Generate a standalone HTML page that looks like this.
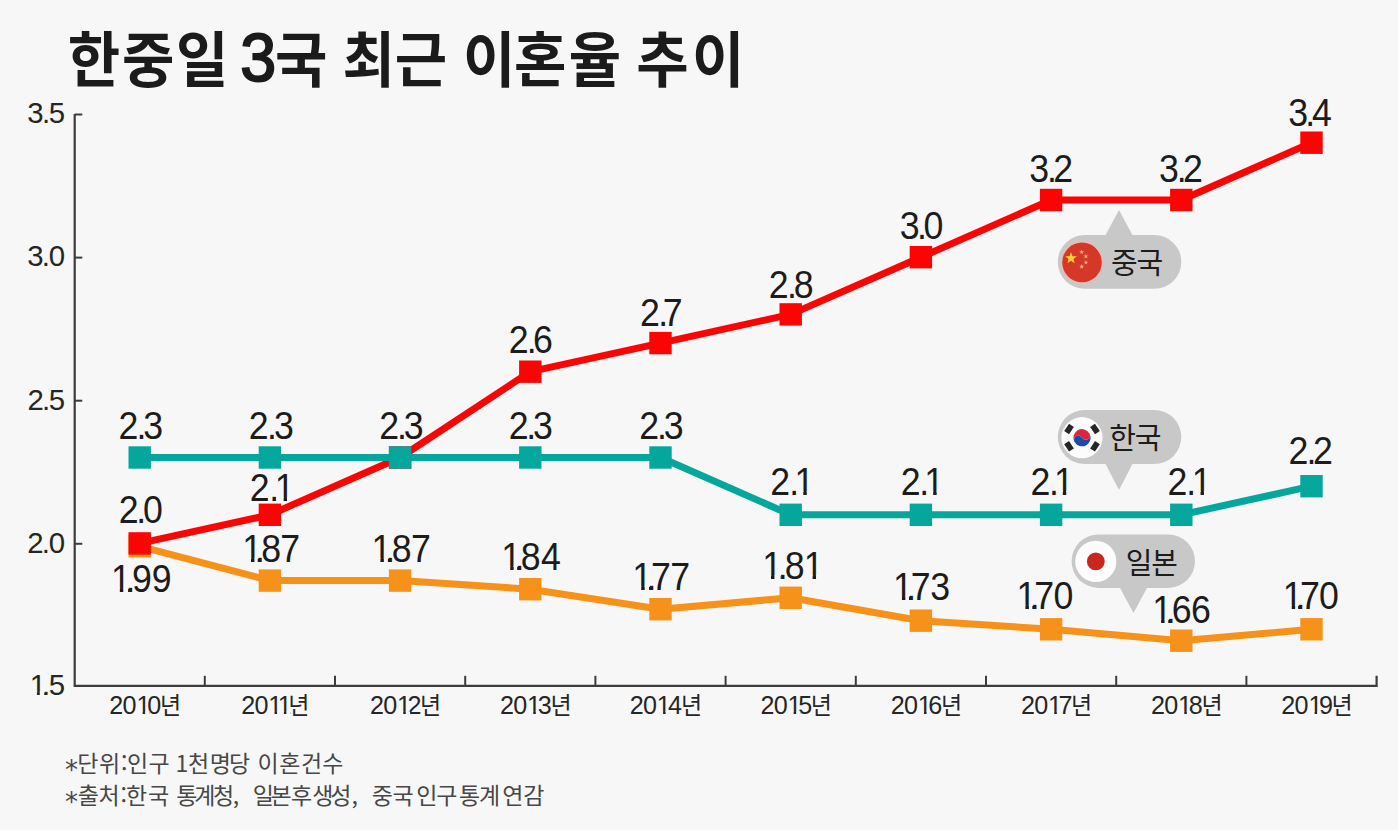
<!DOCTYPE html>
<html lang="ko"><head><meta charset="utf-8"><title>한중일 3국 최근 이혼율 추이</title>
<style>
html,body{margin:0;padding:0;background:#f7f7f7;width:1398px;height:830px;overflow:hidden}
svg{display:block}
text{font-family:"Liberation Sans","Noto Sans CJK KR",sans-serif;fill:#1e1e1e}
.t{font-family:"Noto Sans CJK KR",sans-serif;font-weight:700;font-size:60px;fill:#1b1b1b}
.t3{font-family:"Liberation Sans",sans-serif;font-weight:400;font-size:68px;fill:#1b1b1b;stroke:#1b1b1b;stroke-width:2px}
.v{font-size:38px;fill:#1c1c1c}
.y{font-size:29.4px;fill:#262626}
.x{font-size:26.5px;fill:#262626}
.xn{font-family:"Noto Sans CJK KR",sans-serif;font-size:24.2px}
.b{font-family:"Noto Sans CJK KR",sans-serif;font-size:29px;letter-spacing:-1.2px;fill:#1c1c1c}
.f{font-family:"Noto Sans CJK KR",sans-serif;font-size:23px;fill:#474747}
.ast{font-family:"DejaVu Sans",sans-serif;font-size:26px}
</style></head><body>
<svg width="1398" height="830" viewBox="0 0 1398 830">
<defs><clipPath id="c0"><rect x="28.47" y="662.26" width="39.43" height="29.56"/><rect x="36.90" y="691.32" width="2.89" height="12.10"/><rect x="44.04" y="691.32" width="4.02" height="12.10"/><rect x="49.36" y="691.32" width="15.14" height="12.10"/></clipPath><clipPath id="c1"><rect x="112.22" y="684.85" width="60.62" height="26.59"/><rect x="115.79" y="710.94" width="13.35" height="11.01"/><rect x="129.46" y="710.94" width="13.93" height="11.01"/><rect x="150.10" y="710.94" width="2.65" height="11.01"/><rect x="157.33" y="710.94" width="11.93" height="11.01"/><rect x="167.26" y="680.00" width="26.32" height="31.44"/><rect x="167.26" y="710.94" width="26.32" height="14.06"/></clipPath><clipPath id="c2"><rect x="251.11" y="684.85" width="54.42" height="26.59"/><rect x="254.68" y="710.94" width="13.35" height="11.01"/><rect x="268.35" y="710.94" width="13.93" height="11.01"/><rect x="288.99" y="710.94" width="2.65" height="11.01"/><rect x="298.83" y="710.94" width="2.65" height="11.01"/><rect x="302.47" y="680.00" width="26.32" height="31.44"/><rect x="305.95" y="710.94" width="22.84" height="14.06"/></clipPath><clipPath id="c3"><rect x="386.61" y="684.85" width="60.04" height="26.59"/><rect x="390.19" y="710.94" width="13.35" height="11.01"/><rect x="403.85" y="710.94" width="13.93" height="11.01"/><rect x="424.50" y="710.94" width="2.65" height="11.01"/><rect x="431.73" y="710.94" width="11.34" height="11.01"/><rect x="441.07" y="680.00" width="26.32" height="31.44"/><rect x="441.07" y="710.94" width="26.32" height="14.06"/></clipPath><clipPath id="c4"><rect x="523.43" y="684.85" width="60.51" height="26.59"/><rect x="527.01" y="710.94" width="13.35" height="11.01"/><rect x="540.67" y="710.94" width="13.93" height="11.01"/><rect x="561.31" y="710.94" width="2.65" height="11.01"/><rect x="568.54" y="710.94" width="11.82" height="11.01"/><rect x="578.36" y="680.00" width="26.32" height="31.44"/><rect x="578.36" y="710.94" width="26.32" height="14.06"/></clipPath><clipPath id="c5"><rect x="660.08" y="684.85" width="61.31" height="26.59"/><rect x="663.66" y="710.94" width="13.35" height="11.01"/><rect x="677.32" y="710.94" width="13.93" height="11.01"/><rect x="697.97" y="710.94" width="2.65" height="11.01"/><rect x="705.20" y="710.94" width="12.61" height="11.01"/><rect x="715.81" y="680.00" width="26.32" height="31.44"/><rect x="715.81" y="710.94" width="26.32" height="14.06"/></clipPath><clipPath id="c6"><rect x="797.53" y="684.85" width="60.51" height="26.59"/><rect x="801.11" y="710.94" width="13.35" height="11.01"/><rect x="814.77" y="710.94" width="13.93" height="11.01"/><rect x="835.42" y="710.94" width="2.65" height="11.01"/><rect x="842.65" y="710.94" width="11.82" height="11.01"/><rect x="852.47" y="680.00" width="26.32" height="31.44"/><rect x="852.47" y="710.94" width="26.32" height="14.06"/></clipPath><clipPath id="c7"><rect x="934.76" y="684.85" width="60.17" height="26.59"/><rect x="938.34" y="710.94" width="13.35" height="11.01"/><rect x="952.00" y="710.94" width="13.93" height="11.01"/><rect x="972.64" y="710.94" width="2.65" height="11.01"/><rect x="979.87" y="710.94" width="11.48" height="11.01"/><rect x="989.35" y="680.00" width="26.32" height="31.44"/><rect x="989.35" y="710.94" width="26.32" height="14.06"/></clipPath><clipPath id="c8"><rect x="1071.89" y="684.85" width="60.01" height="26.59"/><rect x="1075.47" y="710.94" width="13.35" height="11.01"/><rect x="1089.13" y="710.94" width="13.93" height="11.01"/><rect x="1109.77" y="710.94" width="2.65" height="11.01"/><rect x="1117.01" y="710.94" width="11.32" height="11.01"/><rect x="1126.32" y="680.00" width="26.32" height="31.44"/><rect x="1126.32" y="710.94" width="26.32" height="14.06"/></clipPath><clipPath id="c9"><rect x="1208.74" y="684.85" width="60.41" height="26.59"/><rect x="1212.32" y="710.94" width="13.35" height="11.01"/><rect x="1225.98" y="710.94" width="13.93" height="11.01"/><rect x="1246.63" y="710.94" width="2.65" height="11.01"/><rect x="1253.86" y="710.94" width="11.71" height="11.01"/><rect x="1263.57" y="680.00" width="26.32" height="31.44"/><rect x="1263.57" y="710.94" width="26.32" height="14.06"/></clipPath><clipPath id="c10"><rect x="1345.90" y="684.85" width="60.20" height="26.59"/><rect x="1349.48" y="710.94" width="13.35" height="11.01"/><rect x="1363.14" y="710.94" width="13.93" height="11.01"/><rect x="1383.79" y="710.94" width="2.65" height="11.01"/><rect x="1391.02" y="710.94" width="11.50" height="11.01"/><rect x="1400.52" y="680.00" width="26.32" height="31.44"/><rect x="1400.52" y="710.94" width="26.32" height="14.06"/></clipPath><clipPath id="c11"><rect x="817.02" y="452.80" width="45.32" height="38.39"/><rect x="820.64" y="490.69" width="18.60" height="15.31"/><rect x="842.34" y="490.69" width="4.92" height="15.31"/><rect x="854.58" y="490.69" width="3.66" height="15.31"/></clipPath><clipPath id="c12"><rect x="955.96" y="452.80" width="44.57" height="38.39"/><rect x="959.57" y="490.69" width="18.60" height="15.31"/><rect x="980.78" y="490.69" width="4.92" height="15.31"/><rect x="992.77" y="490.69" width="3.66" height="15.31"/></clipPath><clipPath id="c13"><rect x="1093.94" y="452.80" width="44.47" height="38.39"/><rect x="1097.55" y="490.69" width="18.60" height="15.31"/><rect x="1118.69" y="490.69" width="4.92" height="15.31"/><rect x="1130.65" y="490.69" width="3.66" height="15.31"/></clipPath><clipPath id="c14"><rect x="1239.57" y="452.80" width="45.32" height="38.39"/><rect x="1243.19" y="490.69" width="18.60" height="15.31"/><rect x="1264.89" y="490.69" width="4.92" height="15.31"/><rect x="1277.13" y="490.69" width="3.66" height="15.31"/></clipPath><clipPath id="c15"><rect x="263.30" y="458.80" width="46.17" height="38.39"/><rect x="266.91" y="496.69" width="18.60" height="15.31"/><rect x="289.18" y="496.69" width="4.92" height="15.31"/><rect x="301.71" y="496.69" width="3.66" height="15.31"/></clipPath><clipPath id="c16"><rect x="117.45" y="549.80" width="67.66" height="38.39"/><rect x="127.47" y="587.69" width="3.66" height="15.31"/><rect x="136.24" y="587.69" width="4.92" height="15.31"/><rect x="141.53" y="587.69" width="18.83" height="15.31"/><rect x="162.66" y="587.69" width="18.83" height="15.31"/></clipPath><clipPath id="c17"><rect x="257.02" y="519.80" width="64.57" height="38.39"/><rect x="267.05" y="557.69" width="3.66" height="15.31"/><rect x="274.15" y="557.69" width="4.92" height="15.31"/><rect x="278.99" y="557.69" width="19.14" height="15.31"/><rect x="299.41" y="557.69" width="18.57" height="15.31"/></clipPath><clipPath id="c18"><rect x="394.68" y="519.90" width="66.17" height="38.39"/><rect x="404.70" y="557.79" width="3.66" height="15.31"/><rect x="412.66" y="557.79" width="4.92" height="15.31"/><rect x="417.73" y="557.79" width="19.14" height="15.31"/><rect x="438.67" y="557.79" width="18.57" height="15.31"/></clipPath><clipPath id="c19"><rect x="532.77" y="527.80" width="67.02" height="38.39"/><rect x="542.79" y="565.69" width="3.66" height="15.31"/><rect x="550.21" y="565.69" width="4.92" height="15.31"/><rect x="555.13" y="565.69" width="19.14" height="15.31"/><rect x="575.74" y="565.69" width="20.43" height="15.31"/></clipPath><clipPath id="c20"><rect x="672.13" y="547.80" width="64.36" height="38.39"/><rect x="682.15" y="585.69" width="3.66" height="15.31"/><rect x="690.46" y="585.69" width="4.92" height="15.31"/><rect x="693.73" y="585.69" width="18.57" height="15.31"/><rect x="714.31" y="585.69" width="18.57" height="15.31"/></clipPath><clipPath id="c21"><rect x="810.21" y="536.80" width="62.02" height="38.39"/><rect x="820.24" y="574.69" width="3.66" height="15.31"/><rect x="830.25" y="574.69" width="4.92" height="15.31"/><rect x="835.89" y="574.69" width="19.14" height="15.31"/><rect x="864.48" y="574.69" width="3.66" height="15.31"/></clipPath><clipPath id="c22"><rect x="949.47" y="558.30" width="63.83" height="38.39"/><rect x="959.49" y="596.19" width="3.66" height="15.31"/><rect x="966.98" y="596.19" width="4.92" height="15.31"/><rect x="970.31" y="596.19" width="18.57" height="15.31"/><rect x="990.39" y="596.19" width="19.29" height="15.31"/></clipPath><clipPath id="c23"><rect x="1080.85" y="567.00" width="63.83" height="38.39"/><rect x="1090.87" y="604.89" width="3.66" height="15.31"/><rect x="1098.26" y="604.89" width="4.92" height="15.31"/><rect x="1101.60" y="604.89" width="18.57" height="15.31"/><rect x="1121.62" y="604.89" width="19.44" height="15.31"/></clipPath><clipPath id="c24"><rect x="1225.21" y="580.90" width="65.43" height="38.39"/><rect x="1235.24" y="618.79" width="3.66" height="15.31"/><rect x="1242.86" y="618.79" width="4.92" height="15.31"/><rect x="1247.83" y="618.79" width="18.79" height="15.31"/><rect x="1268.23" y="618.79" width="18.79" height="15.31"/></clipPath><clipPath id="c25"><rect x="1364.15" y="566.80" width="62.98" height="38.39"/><rect x="1374.17" y="604.69" width="3.66" height="15.31"/><rect x="1381.01" y="604.69" width="4.92" height="15.31"/><rect x="1384.38" y="604.69" width="18.57" height="15.31"/><rect x="1404.07" y="604.69" width="19.44" height="15.31"/></clipPath></defs>
<rect width="1398" height="830" fill="#f7f7f7"/>
<path d="M74.7,114 V685.8 H1376.6 V675.8" fill="none" stroke="#3c3c3c" stroke-width="2.2"/>
<line x1="74.7" y1="114.5" x2="82.3" y2="114.5" stroke="#3c3c3c" stroke-width="2"/>
<line x1="74.7" y1="257.6" x2="82.3" y2="257.6" stroke="#3c3c3c" stroke-width="2"/>
<line x1="74.7" y1="400.7" x2="82.3" y2="400.7" stroke="#3c3c3c" stroke-width="2"/>
<line x1="74.7" y1="543.8" x2="82.3" y2="543.8" stroke="#3c3c3c" stroke-width="2"/>
<line x1="204.8" y1="685.8" x2="204.8" y2="675.8" stroke="#3c3c3c" stroke-width="2"/>
<line x1="335.0" y1="685.8" x2="335.0" y2="675.8" stroke="#3c3c3c" stroke-width="2"/>
<line x1="465.2" y1="685.8" x2="465.2" y2="675.8" stroke="#3c3c3c" stroke-width="2"/>
<line x1="595.4" y1="685.8" x2="595.4" y2="675.8" stroke="#3c3c3c" stroke-width="2"/>
<line x1="725.6" y1="685.8" x2="725.6" y2="675.8" stroke="#3c3c3c" stroke-width="2"/>
<line x1="855.8" y1="685.8" x2="855.8" y2="675.8" stroke="#3c3c3c" stroke-width="2"/>
<line x1="986.0" y1="685.8" x2="986.0" y2="675.8" stroke="#3c3c3c" stroke-width="2"/>
<line x1="1116.2" y1="685.8" x2="1116.2" y2="675.8" stroke="#3c3c3c" stroke-width="2"/>
<line x1="1246.4" y1="685.8" x2="1246.4" y2="675.8" stroke="#3c3c3c" stroke-width="2"/>
<text class="y" x="27.29 41.97 48.79" y="123.30">3.5</text>
<text class="y" x="27.17 41.85 48.70" y="266.40">3.0</text>
<text class="y" x="27.47 41.97 48.79" y="409.50">2.5</text>
<text class="y" x="27.35 41.85 48.70" y="552.60">2.0</text>
<text class="y" x="29.65 41.97 48.79" y="694.60" clip-path="url(#c0)">1.5</text>
<text class="x" x="115.10 129.06 143.58 154.93" y="714.00" transform="scale(0.95,1)" clip-path="url(#c1)">2010<tspan class="xn" x="168.31">년</tspan></text>
<text class="x" x="253.99 267.95 282.47 292.31" y="714.00" transform="scale(0.95,1)" clip-path="url(#c2)">2011<tspan class="xn" x="303.53">년</tspan></text>
<text class="x" x="389.50 403.45 417.98 429.03" y="714.00" transform="scale(0.95,1)" clip-path="url(#c3)">2012<tspan class="xn" x="442.12">년</tspan></text>
<text class="x" x="526.31 540.27 554.79 566.16" y="714.00" transform="scale(0.95,1)" clip-path="url(#c4)">2013<tspan class="xn" x="579.42">년</tspan></text>
<text class="x" x="662.97 676.92 691.45 703.22" y="714.00" transform="scale(0.95,1)" clip-path="url(#c5)">2014<tspan class="xn" x="716.87">년</tspan></text>
<text class="x" x="800.42 814.37 828.90 840.22" y="714.00" transform="scale(0.95,1)" clip-path="url(#c6)">2015<tspan class="xn" x="853.52">년</tspan></text>
<text class="x" x="937.64 951.60 966.12 977.15" y="714.00" transform="scale(0.95,1)" clip-path="url(#c7)">2016<tspan class="xn" x="990.40">년</tspan></text>
<text class="x" x="1074.77 1088.73 1103.25 1114.28" y="714.00" transform="scale(0.95,1)" clip-path="url(#c8)">2017<tspan class="xn" x="1127.37">년</tspan></text>
<text class="x" x="1211.63 1225.58 1240.11 1251.35" y="714.00" transform="scale(0.95,1)" clip-path="url(#c9)">2018<tspan class="xn" x="1264.63">년</tspan></text>
<text class="x" x="1348.79 1362.74 1377.27 1388.40" y="714.00" transform="scale(0.95,1)" clip-path="url(#c10)">2019<tspan class="xn" x="1401.57">년</tspan></text>
<polyline points="139.7,546.3 269.9,580.6 400.1,580.6 530.3,589.2 660.5,609.2 790.7,597.8 920.9,620.7 1051.1,629.3 1181.3,640.7 1311.5,629.3" fill="none" stroke="#f6921a" stroke-width="7" stroke-linejoin="round"/>
<rect x="128.5" y="535.1" width="22.4" height="22.4" fill="#f6921a"/>
<rect x="258.7" y="569.4" width="22.4" height="22.4" fill="#f6921a"/>
<rect x="388.9" y="569.4" width="22.4" height="22.4" fill="#f6921a"/>
<rect x="519.1" y="578.0" width="22.4" height="22.4" fill="#f6921a"/>
<rect x="649.3" y="598.0" width="22.4" height="22.4" fill="#f6921a"/>
<rect x="779.5" y="586.6" width="22.4" height="22.4" fill="#f6921a"/>
<rect x="909.7" y="609.5" width="22.4" height="22.4" fill="#f6921a"/>
<rect x="1039.9" y="618.1" width="22.4" height="22.4" fill="#f6921a"/>
<rect x="1170.1" y="629.5" width="22.4" height="22.4" fill="#f6921a"/>
<rect x="1300.3" y="618.1" width="22.4" height="22.4" fill="#f6921a"/>

<polyline points="139.7,543.4 269.9,514.8 400.1,457.5 530.3,371.7 660.5,343.1 790.7,314.4 920.9,257.2 1051.1,200.0 1181.3,200.0 1311.5,142.7" fill="none" stroke="#fb0404" stroke-width="7" stroke-linejoin="round"/>
<rect x="128.5" y="532.2" width="22.4" height="22.4" fill="#fb0404"/>
<rect x="258.7" y="503.6" width="22.4" height="22.4" fill="#fb0404"/>
<rect x="388.9" y="446.3" width="22.4" height="22.4" fill="#fb0404"/>
<rect x="519.1" y="360.5" width="22.4" height="22.4" fill="#fb0404"/>
<rect x="649.3" y="331.9" width="22.4" height="22.4" fill="#fb0404"/>
<rect x="779.5" y="303.2" width="22.4" height="22.4" fill="#fb0404"/>
<rect x="909.7" y="246.0" width="22.4" height="22.4" fill="#fb0404"/>
<rect x="1039.9" y="188.8" width="22.4" height="22.4" fill="#fb0404"/>
<rect x="1170.1" y="188.8" width="22.4" height="22.4" fill="#fb0404"/>
<rect x="1300.3" y="131.5" width="22.4" height="22.4" fill="#fb0404"/>

<polyline points="139.7,457.5 269.9,457.5 400.1,457.5 530.3,457.5 660.5,457.5 790.7,514.8 920.9,514.8 1051.1,514.8 1181.3,514.8 1311.5,486.2" fill="none" stroke="#05a79d" stroke-width="7" stroke-linejoin="round"/>
<rect x="128.5" y="446.3" width="22.4" height="22.4" fill="#05a79d"/>
<rect x="258.7" y="446.3" width="22.4" height="22.4" fill="#05a79d"/>
<rect x="388.9" y="446.3" width="22.4" height="22.4" fill="#05a79d"/>
<rect x="519.1" y="446.3" width="22.4" height="22.4" fill="#05a79d"/>
<rect x="649.3" y="446.3" width="22.4" height="22.4" fill="#05a79d"/>
<rect x="779.5" y="503.6" width="22.4" height="22.4" fill="#05a79d"/>
<rect x="909.7" y="503.6" width="22.4" height="22.4" fill="#05a79d"/>
<rect x="1039.9" y="503.6" width="22.4" height="22.4" fill="#05a79d"/>
<rect x="1170.1" y="503.6" width="22.4" height="22.4" fill="#05a79d"/>
<rect x="1300.3" y="475.0" width="22.4" height="22.4" fill="#05a79d"/>

<text class="v" x="126.19 145.11 152.35" y="439.30" transform="scale(0.94,1)">2.3</text>
<text class="v" x="264.59 283.94 291.40" y="439.30" transform="scale(0.94,1)">2.3</text>
<text class="v" x="403.42 422.28 429.48" y="439.30" transform="scale(0.94,1)">2.3</text>
<text class="v" x="541.19 559.97 567.14" y="439.30" transform="scale(0.94,1)">2.3</text>
<text class="v" x="680.01 698.87 706.08" y="439.30" transform="scale(0.94,1)">2.3</text>
<text class="v" x="819.38 839.52 845.17" y="494.60" transform="scale(0.94,1)" clip-path="url(#c11)">2.1</text>
<text class="v" x="958.31 977.96 983.36" y="494.60" transform="scale(0.94,1)" clip-path="url(#c12)">2.1</text>
<text class="v" x="1096.29 1115.87 1121.23" y="494.60" transform="scale(0.94,1)" clip-path="url(#c13)">2.1</text>
<text class="v" x="1241.93 1262.07 1267.72" y="494.60" transform="scale(0.94,1)" clip-path="url(#c14)">2.1</text>
<text class="v" x="1370.76 1390.00 1396.94" y="463.80" transform="scale(0.94,1)">2.2</text>
<text class="v" x="126.29 144.98 152.06" y="523.00" transform="scale(0.94,1)">2.0</text>
<text class="v" x="265.65 286.36 292.29" y="500.60" transform="scale(0.94,1)" clip-path="url(#c15)">2.1</text>
<text class="v" x="541.19 560.30 567.14" y="353.30" transform="scale(0.94,1)">2.6</text>
<text class="v" x="680.87 700.32 705.03" y="325.70" transform="scale(0.94,1)">2.7</text>
<text class="v" x="817.78 837.23 844.55" y="298.10" transform="scale(0.94,1)">2.8</text>
<text class="v" x="957.07 975.59 982.48" y="239.10" transform="scale(0.94,1)">3.0</text>
<text class="v" x="1094.83 1113.85 1120.56" y="182.50" transform="scale(0.94,1)">3.2</text>
<text class="v" x="1232.92 1251.93 1258.64" y="182.50" transform="scale(0.94,1)">3.2</text>
<text class="v" x="1370.58 1388.59 1395.83" y="126.20" transform="scale(0.94,1)">3.4</text>
<text class="v" x="118.05 133.42 140.38 161.51" y="591.60" transform="scale(0.94,1)" clip-path="url(#c16)">1.99</text>
<text class="v" x="257.63 271.33 277.99 298.11" y="561.60" transform="scale(0.94,1)" clip-path="url(#c17)">1.87</text>
<text class="v" x="395.29 409.84 416.73 437.37" y="561.70" transform="scale(0.94,1)" clip-path="url(#c18)">1.87</text>
<text class="v" x="533.37 547.39 554.13 575.51" y="569.60" transform="scale(0.94,1)" clip-path="url(#c19)">1.84</text>
<text class="v" x="672.73 687.64 692.43 713.01" y="589.60" transform="scale(0.94,1)" clip-path="url(#c20)">1.77</text>
<text class="v" x="810.82 827.43 834.89 855.06" y="578.60" transform="scale(0.94,1)" clip-path="url(#c21)">1.81</text>
<text class="v" x="950.08 964.16 969.01 989.59" y="600.10" transform="scale(0.94,1)" clip-path="url(#c22)">1.73</text>
<text class="v" x="1081.46 1095.45 1100.30 1120.78" y="608.80" transform="scale(0.94,1)" clip-path="url(#c23)">1.70</text>
<text class="v" x="1225.82 1240.04 1246.53 1266.93" y="622.70" transform="scale(0.94,1)" clip-path="url(#c24)">1.66</text>
<text class="v" x="1364.76 1378.19 1383.08 1403.23" y="608.60" transform="scale(0.94,1)" clip-path="url(#c25)">1.70</text>
<rect x="1057.8" y="235" width="123.5" height="53.80000000000001" rx="26.900000000000006" fill="#c8c8c8"/><polygon points="1105,236 1133,236 1119,210" fill="#c8c8c8"/>
<rect x="1057.8" y="409.9" width="123.5" height="54.200000000000045" rx="27.100000000000023" fill="#c8c8c8"/><polygon points="1105,463 1133,463 1119,490" fill="#c8c8c8"/>
<rect x="1071.6" y="534.5" width="123.40000000000009" height="53.39999999999998" rx="26.69999999999999" fill="#c8c8c8"/><polygon points="1119.5,587 1147.5,587 1133.5,613" fill="#c8c8c8"/>
<circle cx="1082" cy="262.4" r="21.3" fill="#eebcb4"/>
<circle cx="1082" cy="262.4" r="19.8" fill="#d53828"/>
<polygon points="1071.00,252.00 1072.46,256.19 1076.90,256.28 1073.36,258.97 1074.64,263.22 1071.00,260.68 1067.36,263.22 1068.64,258.97 1065.10,256.28 1069.54,256.19" fill="#f7cf3c"/>
<polygon points="1081.70,249.40 1082.31,251.16 1084.17,251.20 1082.69,252.32 1083.23,254.10 1081.70,253.04 1080.17,254.10 1080.71,252.32 1079.23,251.20 1081.09,251.16" fill="#f3b27a"/>
<polygon points="1085.90,253.80 1086.51,255.56 1088.37,255.60 1086.89,256.72 1087.43,258.50 1085.90,257.44 1084.37,258.50 1084.91,256.72 1083.43,255.60 1085.29,255.56" fill="#f3b27a"/>
<polygon points="1085.90,259.90 1086.51,261.66 1088.37,261.70 1086.89,262.82 1087.43,264.60 1085.90,263.54 1084.37,264.60 1084.91,262.82 1083.43,261.70 1085.29,261.66" fill="#f3b27a"/>
<polygon points="1081.70,264.00 1082.31,265.76 1084.17,265.80 1082.69,266.92 1083.23,268.70 1081.70,267.64 1080.17,268.70 1080.71,266.92 1079.23,265.80 1081.09,265.76" fill="#f3b27a"/>
<circle cx="1082" cy="437.7" r="20.6" fill="#fcfcfc"/>
<g transform="rotate(-30 1082 437.7)"><path d="M1073.4,437.7 A8.6,8.6 0 0 1 1090.6,437.7 A4.3,4.3 0 0 1 1082,437.7 A4.3,4.3 0 0 0 1073.4,437.7 z" fill="#d9283e"/><path d="M1073.4,437.7 A8.6,8.6 0 0 0 1090.6,437.7 A4.3,4.3 0 0 1 1082,437.7 A4.3,4.3 0 0 0 1073.4,437.7 z" fill="#1d4aa3"/></g>
<rect x="1066.12" y="424.65" width="5.8" height="8.8" fill="#262626" transform="rotate(-146.3 1069.02 429.05)"/>
<rect x="1092.08" y="424.65" width="5.8" height="8.8" fill="#262626" transform="rotate(-33.7 1094.98 429.05)"/>
<rect x="1066.12" y="441.95" width="5.8" height="8.8" fill="#262626" transform="rotate(146.3 1069.02 446.35)"/>
<rect x="1092.08" y="441.95" width="5.8" height="8.8" fill="#262626" transform="rotate(33.7 1094.98 446.35)"/>
<circle cx="1095.8" cy="561.4" r="20.6" fill="#fcfcfc"/>
<circle cx="1095.8" cy="561.4" r="8.9" fill="#c9271d"/>
<text x="1111" y="273.8" class="b">중국</text>
<text x="1109.3" y="449.2" class="b">한국</text>
<text x="1125.8" y="573.5" class="b">일본</text>
<text y="82" class="t" transform="scale(0.95,1)"><tspan x="71.4 128.3 185.2">한중일</tspan> <tspan class="t3" x="252.8" y="81.3">3</tspan><tspan x="289.6" y="82">국</tspan> <tspan x="360.6 415.6">최근</tspan> <tspan x="487.4 541.1 598.6">이혼율</tspan> <tspan x="669.8 728.5">추이</tspan></text>
<text y="772.3" class="f"><tspan class="ast" x="65.0" dy="6.5">*</tspan><tspan x="77.18 99.10 121.12 127.09 148.45" dy="-6.5">단위:인구</tspan> <tspan x="175.48 188.10 209.68 229.03">1천명당</tspan> <tspan x="257.59 279.35 301.03 322.25">이혼건수</tspan></text>
<text y="804.0" class="f"><tspan class="ast" x="65.0" dy="6.5">*</tspan><tspan x="77.83 98.40 120.42 125.90 147.95" dy="-6.5">출처:한국</tspan> <tspan x="176.17 194.27 213.10 232.78">통계청,</tspan> <tspan x="252.79 270.55 291.05 312.25 330.37 351.58">일본후생성,</tspan> <tspan x="371.75 392.45 416.29 436.15 458.97 479.07 502.33 523.37">중국인구통계연감</tspan></text>
</svg>
</body></html>
